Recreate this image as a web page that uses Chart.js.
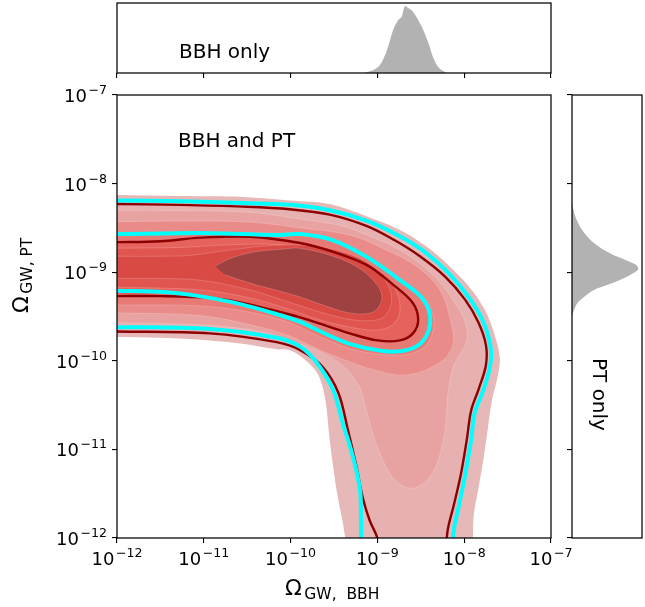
<!DOCTYPE html>
<html>
<head>
<meta charset="utf-8">
<script src="https://cdn.jsdelivr.net/npm/chart.js@4.4.1/dist/chart.umd.min.js"></script>
<style>
    html, body { margin: 0; padding: 0; background: #fff; }
    #wrap { position: relative; width: 645px; height: 607px; }
    #wrap canvas { position: absolute; left: 0; top: 0; }
</style>
</head>
<body>
<div id="wrap">
    <canvas id="main" width="645" height="607"></canvas>
    <canvas id="top" width="645" height="607"></canvas>
    <canvas id="right" width="645" height="607"></canvas>
</div>
<script>
// all positions are log10(Omega) on both axes
var decadeTicks = [-12, -11, -10, -9, -8, -7];

/* Marginal: BBH only (top) */
var bbhOnlyLogX = [-9.16, -9.05, -8.97, -8.89, -8.82, -8.76, -8.72, -8.70, -8.68, -8.64, -8.59, -8.53, -8.47, -8.41, -8.36, -8.30, -8.24, -8.20];
var bbhOnlyDensity = [0, 0.04, 0.12, 0.34, 0.64, 0.79, 0.84, 0.94, 1.0, 0.965, 0.915, 0.79, 0.64, 0.44, 0.24, 0.09, 0.03, 0];

/* Marginal: PT only (right) */
var ptOnlyLogY = [-8.22, -8.37, -8.52, -8.67, -8.79, -8.86, -8.92, -8.96, -8.99, -9.05, -9.13, -9.20, -9.28, -9.35, -9.43, -9.50];
var ptOnlyDensity = [0, 0.05, 0.15, 0.33, 0.58, 0.80, 0.97, 1.0, 0.97, 0.83, 0.58, 0.33, 0.18, 0.08, 0.03, 0];

/* Joint posterior, filled levels from outside in */
var levelColors = ['#e6b8b8', '#e8b1b1', '#e8a2a1', '#e98c89', '#e87a76', '#e6625d', '#e15550', '#da4a45', '#a04141'];

var envelope = [[-12.15, -8.13], [-12, -8.13], [-11.27, -8.14], [-10.55, -8.15], [-10.01, -8.19], [-9.55, -8.23], [-9.12, -8.37], [-8.77, -8.51], [-8.45, -8.70], [-8.16, -8.94], [-7.93, -9.18], [-7.76, -9.43], [-7.65, -9.71], [-7.59, -9.96], [-7.61, -10.16], [-7.68, -10.44], [-7.73, -10.78], [-7.78, -11.12], [-7.84, -11.46], [-7.89, -11.74], [-7.90, -12], [-7.91, -12.15],
    [-9.38, -12.15], [-9.37, -12], [-9.47, -11.46], [-9.55, -10.89], [-9.60, -10.44], [-9.68, -10.16], [-9.83, -9.99], [-10.01, -9.88], [-10.16, -9.87], [-10.53, -9.81], [-10.93, -9.77], [-11.50, -9.74], [-12, -9.73], [-12.15, -9.73]];

var level3 = [[-12.15, -8.30], [-10.55, -8.32], [-9.89, -8.40], [-9.40, -8.48], [-9.12, -8.58], [-8.74, -8.75], [-8.36, -9.03], [-8.13, -9.31], [-7.99, -9.56], [-7.97, -9.77], [-8.05, -9.93], [-8.13, -10.08], [-8.19, -10.39], [-8.22, -10.78], [-8.31, -11.15], [-8.43, -11.35], [-8.62, -11.44], [-8.82, -11.32], [-9.00, -10.97], [-9.12, -10.59], [-9.20, -10.31], [-9.37, -10.08], [-9.66, -9.90], [-10.01, -9.77], [-10.35, -9.67], [-10.93, -9.60], [-12, -9.57], [-12.15, -9.57]];

var level4 = [[-12.15, -8.43], [-10.55, -8.43], [-9.89, -8.50], [-9.32, -8.58], [-8.94, -8.73], [-8.54, -8.94], [-8.28, -9.20], [-8.16, -9.54], [-8.13, -9.82], [-8.28, -10.02], [-8.66, -10.16], [-9.05, -10.10], [-9.43, -9.97], [-9.66, -9.88], [-10.01, -9.72], [-10.35, -9.62], [-11.04, -9.49], [-12, -9.46], [-12.15, -9.46]];

var level5 = [[-12.15, -8.57], [-10.93, -8.56], [-9.89, -8.57], [-9.51, -8.64], [-9.12, -8.82], [-8.74, -9.08], [-8.45, -9.31], [-8.35, -9.54], [-8.42, -9.80], [-8.62, -9.92], [-8.94, -9.93], [-9.32, -9.86], [-9.70, -9.71], [-10.01, -9.57], [-10.47, -9.45], [-11.04, -9.38], [-12, -9.37], [-12.15, -9.37]];

var level7 = [[-12.15, -8.73], [-11.27, -8.72], [-10.70, -8.69], [-10.12, -8.69], [-9.55, -8.79], [-9.14, -8.90], [-8.83, -9.14], [-8.74, -9.37], [-8.79, -9.56], [-8.97, -9.65], [-9.26, -9.63], [-9.66, -9.54], [-10.01, -9.42], [-10.47, -9.29], [-11.04, -9.20], [-12, -9.17], [-12.15, -9.17]];

var level8 = [[-12.15, -8.82], [-11.50, -8.82], [-11.16, -8.81], [-10.70, -8.75], [-10.24, -8.70], [-9.78, -8.70], [-9.37, -8.78], [-9.06, -8.93], [-8.88, -9.14], [-8.84, -9.35], [-8.95, -9.52], [-9.26, -9.54], [-9.66, -9.45], [-10.01, -9.34], [-10.47, -9.20], [-11.04, -9.09], [-11.62, -9.07], [-12.15, -9.07]];

var core = [[-10.87, -8.93], [-10.68, -8.84], [-10.41, -8.77], [-10.10, -8.74], [-9.89, -8.73], [-9.51, -8.82], [-9.20, -8.96], [-8.99, -9.16], [-8.95, -9.31], [-9.05, -9.45], [-9.32, -9.46], [-9.66, -9.36], [-9.89, -9.28], [-10.10, -9.22], [-10.41, -9.14], [-10.76, -9.03]];

/* Contour lines */
var outerRedTop = [[-12.15, -8.23], [-12, -8.23], [-11.27, -8.24], [-10.55, -8.26], [-10.01, -8.29], [-9.55, -8.35], [-9.12, -8.48], [-8.80, -8.64], [-8.51, -8.82], [-8.22, -9.05], [-7.99, -9.31], [-7.84, -9.56], [-7.75, -9.82], [-7.75, -10.05], [-7.83, -10.31], [-7.92, -10.56], [-7.97, -10.89], [-8.04, -11.29], [-8.12, -11.63], [-8.19, -11.91], [-8.21, -12.15]];
var outerRedLow = [[-12.15, -9.67], [-12, -9.67], [-10.93, -9.69], [-10.16, -9.79], [-9.89, -9.88], [-9.63, -10.07], [-9.45, -10.36], [-9.34, -10.78], [-9.24, -11.20], [-9.17, -11.54], [-9.09, -11.80], [-9.00, -12], [-8.98, -12.15]];
var outerCyanTop = [[-12.15, -8.19], [-12, -8.19], [-11.27, -8.20], [-10.55, -8.22], [-10.01, -8.24], [-9.55, -8.30], [-9.12, -8.42], [-8.77, -8.58], [-8.47, -8.76], [-8.18, -9.01], [-7.95, -9.28], [-7.79, -9.54], [-7.70, -9.82], [-7.70, -10.05], [-7.78, -10.33], [-7.88, -10.59], [-7.92, -10.89], [-7.99, -11.29], [-8.06, -11.63], [-8.12, -11.91], [-8.13, -12.15]];
var outerCyanLow = [[-12.15, -9.62], [-12, -9.62], [-10.93, -9.64], [-10.16, -9.74], [-9.89, -9.84], [-9.70, -10.02], [-9.51, -10.33], [-9.40, -10.70], [-9.28, -11.09], [-9.20, -11.46], [-9.19, -11.80], [-9.19, -12.15]];
var innerCyan = [[-12.15, -8.57], [-12, -8.57], [-11.31, -8.56], [-10.93, -8.56], [-10.16, -8.58], [-9.89, -8.57], [-9.51, -8.64], [-9.12, -8.83], [-8.74, -9.09], [-8.47, -9.31], [-8.39, -9.54], [-8.47, -9.77], [-8.66, -9.88], [-8.94, -9.89], [-9.32, -9.81], [-9.70, -9.65], [-9.89, -9.56], [-10.24, -9.45], [-10.58, -9.36], [-10.93, -9.29], [-11.39, -9.23], [-12, -9.21], [-12.15, -9.21]];
var innerRed = [[-12.15, -8.66], [-12, -8.66], [-11.50, -8.65], [-11.04, -8.61], [-10.47, -8.60], [-9.89, -8.67], [-9.51, -8.77], [-9.12, -8.92], [-8.82, -9.14], [-8.59, -9.35], [-8.53, -9.54], [-8.59, -9.69], [-8.74, -9.77], [-9.00, -9.77], [-9.32, -9.69], [-9.70, -9.57], [-9.89, -9.51], [-10.24, -9.42], [-10.58, -9.34], [-10.93, -9.29], [-11.50, -9.27], [-12, -9.27], [-12.15, -9.27]];

var FONT = '"DejaVu Sans"';
Chart.defaults.font.family = 'DejaVu Sans';

function toPoints(pairs) {
    return pairs.map(function (p) { return {x: p[0], y: p[1]}; });
}

function region(pairs, color, order, seam) {
    return {
        data: toPoints(pairs), showLine: true, fill: 'shape',
        backgroundColor: color, borderColor: seam ? 'rgba(255,255,255,0.3)' : color,
        borderWidth: seam ? 0.6 : 0, pointRadius: 0, tension: 0.35, order: order, clip: 0
    };
}

function contour(pairs, color, width, order) {
    return {
        data: toPoints(pairs), showLine: true, fill: false,
        borderColor: color, borderWidth: width, pointRadius: 0, tension: 0.35, order: order, clip: 0
    };
}

var frame = {
    id: 'frame',
    afterDraw: function (chart) {
        var a = chart.chartArea, ctx = chart.ctx;
        ctx.save();
        ctx.strokeStyle = '#000';
        ctx.lineWidth = 1.25;
        ctx.strokeRect(a.left, a.top, a.right - a.left, a.bottom - a.top);
        ctx.restore();
    }
};

function decadeAxis(extra) {
    var axis = {
        type: 'linear', min: -12, max: -7,
        afterBuildTicks: function (scale) {
            scale.ticks = decadeTicks.map(function (v) { return {value: v}; });
        },
        ticks: {display: false},
        grid: {display: true, drawOnChartArea: false, drawTicks: true, tickLength: 5, color: '#000', lineWidth: 1.1},
        border: {display: false}
    };
    return Object.assign(axis, extra);
}

// "10" with a raised exponent, like the mathtext labels
function drawPower(ctx, exp, x, align, baseline) {
    var base = '10', sup = '\u2212' + Math.abs(exp);
    ctx.font = '18px ' + FONT;
    var wb = ctx.measureText(base).width;
    ctx.font = '12.6px ' + FONT;
    var ws = ctx.measureText(sup).width;
    var total = wb + 1.5 + ws;
    var left = align === 'center' ? x - total / 2 : x - total;
    ctx.textAlign = 'left';
    ctx.textBaseline = 'alphabetic';
    ctx.font = '18px ' + FONT;
    ctx.fillText(base, left, baseline);
    ctx.font = '12.6px ' + FONT;
    ctx.fillText(sup, left + wb + 1.5, baseline - 8);
}

function drawOmega(ctx, sub, x, baseline) {
    ctx.textAlign = 'left';
    ctx.textBaseline = 'alphabetic';
    ctx.font = '22px ' + FONT;
    ctx.fillText('\u03A9', x, baseline);
    var w = ctx.measureText('\u03A9').width;
    ctx.font = '15.5px ' + FONT;
    ctx.fillText(sub, x + w + 2.5, baseline + 4);
}

var mainText = {
    id: 'mainText',
    afterDraw: function (chart) {
        var ctx = chart.ctx, a = chart.chartArea;
        var xs = chart.scales.x, ys = chart.scales.y;
        ctx.save();
        ctx.fillStyle = '#000';
        xs.ticks.forEach(function (t) {
            drawPower(ctx, t.value, xs.getPixelForValue(t.value), 'center', a.bottom + 27);
        });
        ys.ticks.forEach(function (t) {
            drawPower(ctx, t.value, a.left - 10, 'right', ys.getPixelForValue(t.value) + 7);
        });

        ctx.font = '20px ' + FONT;
        ctx.fillText('BBH and PT', 178, 147);

        drawOmega(ctx, 'GW,  BBH', 285, 595);

        ctx.save();
        ctx.translate(27.5, 313);
        ctx.rotate(-Math.PI / 2);
        drawOmega(ctx, 'GW, PT', 0, 0);
        ctx.restore();
        ctx.restore();
    }
};

var baseOptions = {
    responsive: false,
    animation: false,
    events: [],
    elements: {line: {capBezierPoints: false}},
    plugins: {legend: {display: false}, tooltip: {enabled: false}}
};

/* Joint contours */
var mainCtx = document.getElementById('main').getContext('2d');

new Chart(mainCtx, {
    type: 'scatter',
    data: {
        datasets: [
            region(envelope, levelColors[0], 20, false),
            region(outerRedTop.concat(outerRedLow.slice().reverse()), levelColors[1], 19, true),
            region(level3, levelColors[2], 18, true),
            region(level4, levelColors[3], 17, true),
            region(level5, levelColors[4], 16, true),
            region(innerRed, levelColors[5], 15, true),
            region(level7, levelColors[6], 14, true),
            region(level8, levelColors[7], 13, true),
            region(core, levelColors[8], 12, true),
            contour(outerRedTop, '#8b0000', 2.4, 3),
            contour(outerRedLow, '#8b0000', 2.4, 3),
            contour(innerRed, '#8b0000', 2.4, 3),
            contour(outerCyanTop, '#00ffff', 4, 2),
            contour(outerCyanLow, '#00ffff', 4, 2),
            contour(innerCyan, '#00ffff', 4, 2)
        ]
    },
    options: Object.assign({}, baseOptions, {
        layout: {padding: {left: 0, right: 94, top: 95, bottom: 0}},
        scales: {
            x: decadeAxis({afterFit: function (s) { s.height = 69; }}),
            y: decadeAxis({afterFit: function (s) { s.width = 117; }})
        }
    }),
    plugins: [frame, mainText]
}); // Joint contours

/* BBH only */
var topCtx = document.getElementById('top').getContext('2d');

new Chart(topCtx, {
    type: 'scatter',
    data: {
        datasets: [{
            data: bbhOnlyLogX.map(function (x, i) { return {x: x, y: bbhOnlyDensity[i]}; }),
            showLine: true, fill: 'shape', backgroundColor: '#b2b2b2',
            borderWidth: 0, pointRadius: 0, tension: 0.3, clip: 0
        }]
    },
    options: Object.assign({}, baseOptions, {
        layout: {padding: {left: 117, right: 94, top: 3, bottom: 524}},
        scales: {
            x: decadeAxis({afterFit: function (s) { s.height = 10; }}),
            y: {display: false, min: 0, max: 1.045}
        }
    }),
    plugins: [frame, {
        id: 'topText',
        afterDraw: function (chart) {
            var ctx = chart.ctx;
            ctx.save();
            ctx.fillStyle = '#000';
            ctx.font = '20px ' + FONT;
            ctx.textBaseline = 'alphabetic';
            ctx.fillText('BBH only', 179, 58);
            ctx.restore();
        }
    }]
}); // BBH only

/* PT only */
var rightCtx = document.getElementById('right').getContext('2d');

new Chart(rightCtx, {
    type: 'scatter',
    data: {
        datasets: [{
            data: ptOnlyLogY.map(function (y, i) { return {x: ptOnlyDensity[i], y: y}; }),
            showLine: true, fill: 'shape', backgroundColor: '#b2b2b2',
            borderWidth: 0, pointRadius: 0, tension: 0.3, clip: 0
        }]
    },
    options: Object.assign({}, baseOptions, {
        layout: {padding: {left: 562, right: 3, top: 95, bottom: 69}},
        scales: {
            x: {display: false, min: 0, max: 1.056},
            y: decadeAxis({afterFit: function (s) { s.width = 10; }})
        }
    }),
    plugins: [frame, {
        id: 'rightText',
        afterDraw: function (chart) {
            var ctx = chart.ctx;
            ctx.save();
            ctx.fillStyle = '#000';
            ctx.font = '20px ' + FONT;
            ctx.textBaseline = 'alphabetic';
            ctx.translate(593, 358);
            ctx.rotate(Math.PI / 2);
            ctx.fillText('PT only', 0, 0);
            ctx.restore();
        }
    }]
}); // PT only
</script>
</body>
</html>
